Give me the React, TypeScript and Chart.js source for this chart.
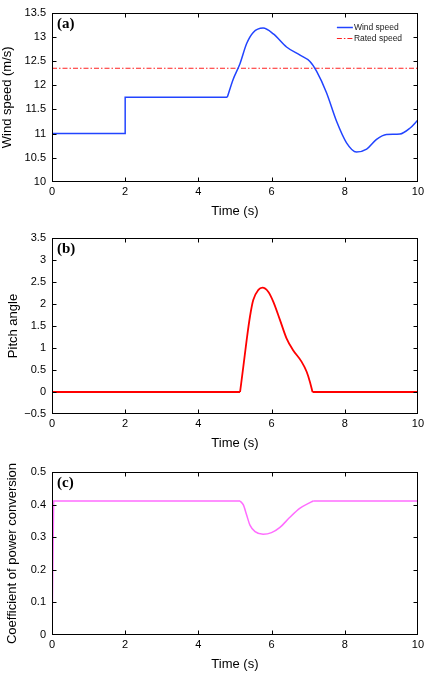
import React, { useEffect, useRef } from 'react';
import { Chart, registerables } from 'chart.js';

Chart.register(...registerables);

// ---------- data ----------
const timeTicks = [0, 2, 4, 6, 8, 10];

// (a) wind speed
const windStepTime = [0, 2, 2, 4.79];
const windStepSpeed = [11, 11, 11.75, 11.75];
const windCurveTime = [4.79, 4.95, 5.14, 5.32, 5.5, 5.77, 6.05, 6.41, 6.78, 7.05, 7.23, 7.5, 7.78, 8.05, 8.32, 8.6, 8.87, 9.14, 9.51, 9.78, 10];
const windCurveSpeed = [11.75, 12.12, 12.45, 12.86, 13.09, 13.18, 13.06, 12.79, 12.62, 12.49, 12.29, 11.85, 11.25, 10.81, 10.62, 10.68, 10.88, 10.98, 10.99, 11.11, 11.28];
const ratedTime = [0, 10];
const ratedSpeed = [12.35, 12.35];

// (b) pitch angle
const pitchHeadTime = [0, 5.14];
const pitchHead = [0, 0];
const pitchPeakTime = [5.14, 5.23, 5.32, 5.41, 5.5, 5.64, 5.75, 5.91, 6.05, 6.23, 6.41, 6.59, 6.82, 6.96, 7.05, 7.12];
const pitchPeak = [0, 0.58, 1.18, 1.71, 2.09, 2.32, 2.37, 2.28, 2.05, 1.64, 1.22, 0.95, 0.69, 0.46, 0.23, 0];
const pitchTailTime = [7.12, 10];
const pitchTail = [0, 0];

// (c) coefficient of power conversion
const cpHeadTime = [0, 0.045, 5.14];
const cpHead = [0, 0.411, 0.411];
const cpDipTime = [5.14, 5.23, 5.32, 5.41, 5.55, 5.77, 6.0, 6.23, 6.5, 6.78, 7.05, 7.14];
const cpDip = [0.411, 0.399, 0.368, 0.337, 0.317, 0.309, 0.314, 0.33, 0.361, 0.389, 0.406, 0.411];
const cpTailTime = [7.14, 10];
const cpTail = [0.411, 0.411];

// ---------- helpers ----------
const FONT = "'Liberation Sans', Arial, Helvetica, sans-serif";
const pts = (xs: number[], ys: number[]) => xs.map((x, i) => ({ x, y: ys[i] }));

const framePlugin = {
  id: 'frameTicks',
  afterDatasetsDraw(chart: any, _args: any, opts: any) {
    const { ctx, chartArea: a, scales } = chart;
    const L = Math.round(a.left) + 0.5;
    const R = Math.round(a.right) - 0.5;
    const T = Math.round(a.top) + 0.5;
    const B = Math.round(a.bottom) - 0.5;
    ctx.save();
    ctx.strokeStyle = '#000';
    ctx.lineWidth = 1;
    ctx.setLineDash([]);
    ctx.strokeRect(L, T, R - L, B - T);
    const tl = 4;
    ctx.beginPath();
    scales.x.ticks.forEach((t: any) => {
      const px = Math.round(scales.x.getPixelForValue(t.value)) + 0.5;
      if (px <= L + 1 || px >= R - 1) return;
      ctx.moveTo(px, B); ctx.lineTo(px, B - tl);
      ctx.moveTo(px, T); ctx.lineTo(px, T + tl);
    });
    scales.y.ticks.forEach((t: any) => {
      const py = Math.round(scales.y.getPixelForValue(t.value)) + 0.5;
      if (py <= T + 1 || py >= B - 1) return;
      ctx.moveTo(L, py); ctx.lineTo(L + tl, py);
      ctx.moveTo(R, py); ctx.lineTo(R - tl, py);
    });
    ctx.stroke();
    if (opts && opts.label) {
      ctx.fillStyle = '#000';
      ctx.font = "bold 15px 'Liberation Serif', 'Times New Roman', serif";
      ctx.textBaseline = 'alphabetic';
      ctx.textAlign = 'left';
      ctx.fillText(opts.label, a.left + 5, a.top + 15);
    }
    if (opts && opts.legend) {
      const items = chart.data.datasets.filter((d: any) => d.label);
      items.forEach((d: any, i: number) => {
        const y = Math.round(a.top + 14 + i * 11) + 0.5;
        const x0 = a.right - 81;
        ctx.beginPath();
        ctx.strokeStyle = d.borderColor;
        ctx.lineWidth = d.borderWidth || 1;
        ctx.setLineDash(d.borderDash || []);
        ctx.moveTo(x0, y);
        ctx.lineTo(x0 + 16, y);
        ctx.stroke();
        ctx.setLineDash([]);
        ctx.fillStyle = '#222';
        ctx.font = `8.5px ${FONT}`;
        ctx.textBaseline = 'middle';
        ctx.textAlign = 'left';
        ctx.fillText(d.label, x0 + 17, y);
      });
    }
    ctx.restore();
  },
};

type Panel = {
  label: string;
  yTitle: string;
  yMin: number;
  yMax: number;
  yStep: number;
  yTitlePad: number;
  padTop: number;
  height: number;
  legend: boolean;
  datasets: any[];
};

const line = (data: any[], color: string, width: number, label = '', curve = false, dash: number[] = []) => ({
  label,
  data,
  borderColor: color,
  backgroundColor: color,
  borderWidth: width,
  borderDash: dash,
  pointRadius: 0,
  fill: false,
  tension: 0,
  cubicInterpolationMode: curve ? 'monotone' : 'default',
});

const panels: Panel[] = [
  {
    label: '(a)',
    yTitle: 'Wind speed (m/s)',
    yMin: 10, yMax: 13.5, yStep: 0.5,
    yTitlePad: 0, padTop: 8, height: 220, legend: true,
    datasets: [
      line(pts(windStepTime, windStepSpeed), '#2244ff', 1.5),
      line(pts(windCurveTime, windCurveSpeed), '#2244ff', 1.5, 'Wind speed', true),
      line(pts(ratedTime, ratedSpeed), '#ff2020', 1, 'Rated speed', false, [5, 2, 1.5, 2]),
    ],
  },
  {
    label: '(b)',
    yTitle: 'Pitch angle',
    yMin: -0.5, yMax: 3.5, yStep: 0.5,
    yTitlePad: 6, padTop: 18, height: 232, legend: false,
    datasets: [
      line(pts(pitchHeadTime, pitchHead), '#ff0000', 1.8),
      line(pts(pitchPeakTime, pitchPeak), '#ff0000', 1.8, '', true),
      line(pts(pitchTailTime, pitchTail), '#ff0000', 1.8),
    ],
  },
  {
    label: '(c)',
    yTitle: 'Coefficient of power conversion',
    yMin: 0, yMax: 0.5, yStep: 0.1,
    yTitlePad: 5, padTop: 20, height: 221, legend: false,
    datasets: [
      line(pts(cpHeadTime, cpHead), '#ff6cff', 1.5),
      line(pts(cpDipTime, cpDip), '#ff6cff', 1.5, '', true),
      line(pts(cpTailTime, cpTail), '#ff6cff', 1.5),
    ],
  },
];

function PanelChart({ p }: { p: Panel }) {
  const ref = useRef<HTMLCanvasElement | null>(null);
  useEffect(() => {
    if (!ref.current) return;
    const chart = new Chart(ref.current, {
      type: 'line',
      data: { datasets: p.datasets },
      plugins: [framePlugin],
      options: {
        animation: false,
        responsive: false,
        devicePixelRatio: 1,
        layout: { padding: { top: p.padTop, right: 9, left: 0, bottom: 0 } },
        plugins: {
          legend: { display: false },
          tooltip: { enabled: false },
          frameTicks: { label: p.label, legend: p.legend },
        } as any,
        scales: {
          x: {
            type: 'linear',
            min: 0,
            max: 10,
            afterBuildTicks: (s: any) => { s.ticks = timeTicks.map((v) => ({ value: v })); },
            ticks: { color: '#000', font: { family: FONT, size: 11 }, padding: 3, maxRotation: 0, autoSkip: false },
            grid: { display: false, drawTicks: false },
            border: { display: false },
            title: { display: true, text: 'Time (s)', color: '#000', font: { family: FONT, size: 13 }, padding: { top: 0, bottom: 1 } },
            afterFit: (s: any) => { s.height = 38; },
          },
          y: {
            type: 'linear',
            min: p.yMin,
            max: p.yMax,
            ticks: {
              stepSize: p.yStep,
              color: '#000',
              font: { family: FONT, size: 11 },
              padding: 6,
              callback: (v: any) => {
                const n = Math.round(Number(v) * 100) / 100;
                return n < 0 ? '\u2212' + String(Math.abs(n)) : String(n);
              },
            },
            grid: { display: false, drawTicks: false },
            border: { display: false },
            title: { display: true, text: p.yTitle, color: '#000', font: { family: FONT, size: 13 }, padding: { top: p.yTitlePad, bottom: 0 } },
            afterFit: (s: any) => { s.width = 52; },
          },
        },
      } as any,
    });
    return () => chart.destroy();
  }, [p]);
  return <canvas ref={ref} width={427} height={p.height} style={{ display: 'block', width: 427, height: p.height }} />;
}

export default function App() {
  return (
    <div style={{ position: 'fixed', left: 0, top: 0, width: 427, height: 673, background: '#fff' }}>
      {panels.map((p) => (
        <PanelChart key={p.label} p={p} />
      ))}
    </div>
  );
}
